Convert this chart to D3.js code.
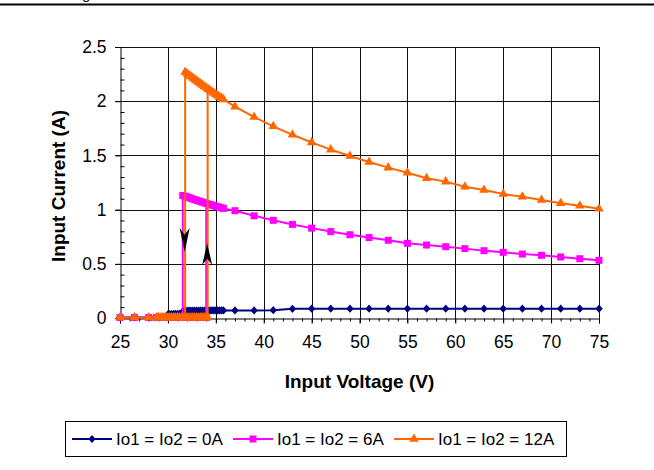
<!DOCTYPE html>
<html><head><meta charset="utf-8">
<script src="https://cdn.jsdelivr.net/npm/d3@7/dist/d3.min.js"></script>
<style>
html,body{margin:0;padding:0;background:#fff;}
svg text{font-family:"Liberation Sans",Arial,sans-serif;fill:#000;}
</style></head>
<body><svg id="c" width="654" height="470"></svg>
<script>
// ---------- data ----------
const xTicks = [25,30,35,40,45,50,55,60,65,70,75];
const yTicks = [0,0.5,1,1.5,2,2.5];
const xTickLabels = ["25","30","35","40","45","50","55","60","65","70","75"];
const yTickLabels = ["0","0.5","1","1.5","2","2.5"];
const seriesNames = ["Io1 = Io2 = 0A","Io1 = Io2 = 6A","Io1 = Io2 = 12A"];

// Io = 0A (single sweep)
const v0 = [25,26.5,28,29,30,30.2,30.4,30.6,30.8,31,31.2,31.4,31.6,31.8,32,32.2,32.4,32.6,32.8,33,33.2,33.4,33.6,33.8,34,34.2,34.4,34.6,34.8,35,35.2,35.4,35.6,35.8,37,39,41,43,45,47,49,51,53,55,57,59,61,63,65,67,69,71,73,75];
const i0 = [0.005,0.005,0.006,0.012,0.034,0.036,0.036,0.037,0.037,0.037,0.038,0.04,0.066,0.067,0.067,0.067,0.068,0.068,0.068,0.068,0.069,0.069,0.069,0.069,0.07,0.07,0.07,0.07,0.07,0.07,0.07,0.07,0.07,0.07,0.07,0.07,0.072,0.085,0.086,0.086,0.086,0.086,0.086,0.086,0.086,0.086,0.086,0.086,0.086,0.086,0.086,0.086,0.086,0.086];

// Io = 6A : decreasing-voltage sweep (on, then turn-off) and increasing-voltage sweep (off, then turn-on)
const v6down = [75,73,71,69,67,65,63,61,59,57,55,53,51,49,47,45,43,41,39,37,35.8,35.6,35.4,35.2,35,34.8,34.6,34.4,34.2,34,33.8,33.6,33.4,33.2,33,32.8,32.6,32.4,32.2,32,31.8,31.55,31.55];
const i6down = [0.532,0.547,0.563,0.578,0.59,0.606,0.621,0.64,0.658,0.673,0.689,0.717,0.742,0.768,0.797,0.829,0.863,0.901,0.943,0.99,1.011,1.016,1.021,1.026,1.031,1.036,1.041,1.047,1.052,1.058,1.063,1.069,1.075,1.08,1.086,1.092,1.098,1.104,1.111,1.117,1.123,1.13,0.005];
const v6up = [25,26.5,28,28.8,29,29.2,29.4,29.6,29.8,30,30.2,30.4,30.6,30.8,31,31.2,31.4,31.6,31.8,32,32.2,32.4,32.6,32.8,33,33.2,33.4,33.6,33.8,34,34];
const i6up = [0.005,0.005,0.005,0.005,0.005,0.005,0.005,0.005,0.005,0.005,0.005,0.005,0.005,0.005,0.005,0.005,0.005,0.005,0.005,0.005,0.005,0.005,0.005,0.005,0.005,0.005,0.005,0.005,0.005,0.005,1.058];

// Io = 12A
const v12down = [75,73,71,69,67,65,63,61,59,57,55,53,51,49,47,45,43,41,39,37,35.8,35.6,35.4,35.2,35,34.8,34.6,34.4,34.2,34,33.8,33.6,33.4,33.2,33,32.8,32.6,32.4,32.2,32,31.8,31.8];
const i12down = [1.008,1.036,1.058,1.089,1.119,1.144,1.181,1.211,1.258,1.289,1.34,1.387,1.439,1.494,1.553,1.62,1.69,1.768,1.854,1.95,2.017,2.028,2.04,2.051,2.063,2.075,2.087,2.099,2.111,2.124,2.136,2.149,2.162,2.175,2.188,2.201,2.215,2.228,2.242,2.256,2.27,0.005];
const v12up = [25,26.5,28,28.8,29,29.2,29.4,29.6,29.8,30,30.2,30.4,30.6,30.8,31,31.2,31.4,31.6,31.8,32,32.2,32.4,32.6,32.8,33,33.2,33.4,33.6,33.8,34,34.15,34.15];
const i12up = [0.005,0.005,0.005,0.005,0.005,0.005,0.005,0.005,0.005,0.005,0.005,0.005,0.005,0.005,0.005,0.005,0.005,0.005,0.005,0.005,0.005,0.005,0.005,0.005,0.005,0.005,0.005,0.005,0.005,0.005,0.005,2.105];

// hysteresis arrows: [x, yTail, yTip]
const arrowDown = [31.75, 0.83, 0.61];
const arrowUp = [34.1, 0.49, 0.69];

// ---------- drawing ----------
const W = 654, H = 470;
const L = 120, R = 599, T = 47, B = 318;
const svg = d3.select("#c");
const x = d3.scaleLinear().domain([25,75]).range([L,R]);
const y = d3.scaleLinear().domain([0,2.5]).range([B,T]);

// top rule
svg.append("line").attr("x1",0).attr("x2",W).attr("y1",4.5).attr("y2",4.5).attr("stroke","#000").attr("stroke-width",2);
svg.append("text").attr("x",82).attr("y",-1.5).attr("font-size",15).text("g");

// grid
const grid = svg.append("g");
grid.selectAll(".gx").data(xTicks.slice(1)).enter().append("line")
  .attr("x1",d=>Math.round(x(d))+0.5).attr("x2",d=>Math.round(x(d))+0.5)
  .attr("y1",T).attr("y2",B+5).attr("stroke","#111").attr("stroke-width",1);
grid.selectAll(".gy").data(yTicks.slice(1)).enter().append("line")
  .attr("x1",L-5).attr("x2",R).attr("y1",d=>Math.round(y(d))+0.5).attr("y2",d=>Math.round(y(d))+0.5)
  .attr("stroke","#111").attr("stroke-width",1);

// y axis (major ticks outside, minor inside)
const yAxis = d3.axisLeft(y).tickValues(yTicks).tickFormat((d,i)=>yTickLabels[i]).tickSize(5).tickPadding(9);
const gy = svg.append("g").attr("transform",`translate(${L+0.5},0)`).call(yAxis);
gy.select(".domain").attr("stroke","#000");
gy.selectAll(".tick line").attr("stroke","#000");
gy.selectAll(".tick text").attr("font-size",17.5).attr("font-family","Liberation Sans, Arial, sans-serif");
const yMinor = d3.range(0,2.5001,0.1).filter(v=>Math.abs(v*2-Math.round(v*2))>1e-6);
svg.append("g").attr("transform",`translate(${L+0.5},0)`).call(d3.axisRight(y).tickValues(yMinor).tickSize(4).tickFormat(""))
  .call(g=>{g.select(".domain").remove(); g.selectAll("line").attr("stroke","#000");});

// x axis
const xAxis = d3.axisBottom(x).tickValues(xTicks).tickFormat((d,i)=>xTickLabels[i]).tickSize(5).tickPadding(12);
const gx = svg.append("g").attr("transform",`translate(0,${B+0.5})`).call(xAxis);
gx.select(".domain").attr("stroke","#000");
gx.selectAll(".tick line").attr("stroke","#000");
gx.selectAll(".tick text").attr("font-size",17.5).attr("font-family","Liberation Sans, Arial, sans-serif");
const xMinor = d3.range(26,75,1).filter(v=>v%5!==0);
svg.append("g").attr("transform",`translate(0,${B+0.5})`).call(d3.axisBottom(x).tickValues(xMinor).tickSize(3).tickFormat(""))
  .call(g=>{g.select(".domain").remove(); g.selectAll("line").attr("stroke","#000");});

// series
const line = d3.line().x(d=>x(d[0])).y(d=>y(d[1]));
const zip = (a,b)=>a.map((v,k)=>[v,b[k]]);
const colors = ["#000080","#FF00FF","#FF6600"];
const sym = [d3.symbolDiamond2, d3.symbolSquare, d3.symbolTriangle];
const symSize = [48, 49, 40];
const symXf = ["scale(0.85,0.95)","",""];
const series = [
  {paths:[zip(v0,i0)], c:0},
  {paths:[zip(v6down,i6down), zip(v6up,i6up)], c:1},
  {paths:[zip(v12down,i12down), zip(v12up,i12up)], c:2}
];
const ms = (k)=>d3.symbol().type(sym[k]).size(symSize[k]);
series.forEach(s=>{
  const g = svg.append("g");
  s.paths.forEach(p=>{
    g.append("path").attr("d",line(p)).attr("fill","none").attr("stroke",colors[s.c]).attr("stroke-width",2);
  });
  s.paths.forEach(p=>{
    g.selectAll(null).data(p.filter((d,k)=>!(k>0 && d[0]===p[k-1][0] && s.c>0 && k===p.length-1))).enter().append("path")
      .attr("d",ms(s.c)).attr("fill",colors[s.c])
      .attr("transform",d=>`translate(${x(d[0])},${y(d[1])}) ${symXf[s.c]}`);
  });
});

// arrows (stealth heads)
function arrow(a){
  const ax = x(a[0]), yt = y(a[1]), yp = y(a[2]);
  const dir = yp>yt ? 1 : -1;
  const len = Math.abs(yp-yt);
  const p = `M${ax},${yp} L${ax-5},${yp-dir*len} L${ax},${yp-dir*len*0.72} L${ax+5},${yp-dir*len} Z`;
  svg.append("path").attr("d",p).attr("fill","#000");
}
arrow(arrowDown); arrow(arrowUp);

// axis titles
svg.append("text").attr("x",(L+R)/2).attr("y",388).attr("text-anchor","middle").attr("font-size",19).attr("font-weight","bold").text("Input Voltage (V)");
svg.append("text").attr("transform","translate(65,186) rotate(-90)").attr("text-anchor","middle").attr("font-size",19).attr("font-weight","bold").text("Input Current (A)");

// legend
const lg = svg.append("g");
lg.append("rect").attr("x",65.5).attr("y",421.5).attr("width",501).attr("height",35).attr("fill","#fff").attr("stroke","#000").attr("stroke-width",1);
const lx = [72,233,394];
seriesNames.forEach((n,k)=>{
  lg.append("line").attr("x1",lx[k]).attr("x2",lx[k]+40).attr("y1",439).attr("y2",439).attr("stroke",colors[k]).attr("stroke-width",2);
  lg.append("path").attr("d",ms(k)).attr("fill",colors[k]).attr("transform",`translate(${lx[k]+20},439) ${symXf[k]}`);
  lg.append("text").attr("x",lx[k]+44).attr("y",445).attr("font-size",17).text(n);
});
</script></body></html>
